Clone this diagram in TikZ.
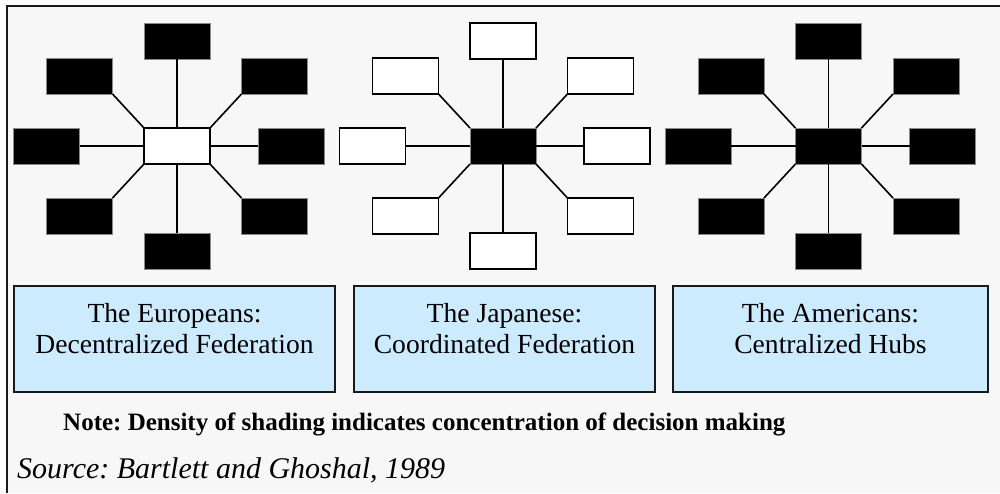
\documentclass[tikz,border=0pt]{standalone}
\usepackage{fontspec}
\setmainfont{Liberation Serif}
\usetikzlibrary{calc}
\frenchspacing

\definecolor{pagebg}{HTML}{F7F7F7}
\definecolor{labelblue}{HTML}{CCEBFF}
\definecolor{edgegrey}{HTML}{8A8A8A}

\tikzset{
  unitbox/.style={rectangle, minimum width=66pt, minimum height=36pt, inner sep=0pt, outer sep=0pt},
  solidunit/.style={unitbox, fill=black, draw=edgegrey, line width=0.8pt},
  hollowunit/.style={unitbox, fill=white, draw=black, line width=1.5pt},
  link/.style={draw=black, line width=1.6pt},
  captionbox/.style={rectangle, fill=labelblue, draw=black!90, line width=1.8pt, inner sep=0pt, outer sep=0pt},
  captiontext/.style={align=center, inner sep=0pt, font=\fontsize{27.6}{31}\selectfont},
}

% One organisation: a hub with eight units linked to it.
% #1 name prefix, #2 centre x, #3 hub style, #4 unit style
\newcommand{\starorg}[4]{%
  \node[#3] (#1c)  at (#2,146) {};
  \node[#4] (#1n)  at (#2,41) {};
  \node[#4] (#1s)  at (#2,251) {};
  \node[#4] (#1nw) at ({#2-97.5},76) {};
  \node[#4] (#1ne) at ({#2+97.5},76) {};
  \node[#4] (#1sw) at ({#2-97.5},216) {};
  \node[#4] (#1se) at ({#2+97.5},216) {};
  \node[#4] (#1w)  at ({#2-130.5},146) {};
  \node[#4] (#1e)  at ({#2+114},146) {};
  \draw[link] (#1c.north) -- (#1n.south);
  \draw[link] (#1c.south) -- (#1s.north);
  \draw[link] (#1c.west) -- (#1w.east);
  \draw[link] (#1c.east) -- (#1e.west);
  \draw[link] (#1c.north west) -- (#1nw.south east);
  \draw[link] (#1c.north east) -- (#1ne.south west);
  \draw[link] (#1c.south west) -- (#1sw.north east);
  \draw[link] (#1c.south east) -- (#1se.north west);
}

\begin{document}
\begin{tikzpicture}[x=1pt, y=-1pt]
  % canvas and frame
  \fill[white] (0,0) rectangle (1000,493);
  \useasboundingbox (0,0) rectangle (1000,493);
  \fill[pagebg] (7,6) rectangle (1000,493);
  \draw[line width=2.4pt, black!90] (7,493) -- (7,6) -- (1000,6);

  % the three structures
  \starorg{eu}{177}{hollowunit}{solidunit}
  \starorg{jp}{503}{solidunit}{hollowunit}
  \starorg{us}{828.5}{solidunit}{solidunit}

  % captions
  \node[captionbox, minimum width=321pt, minimum height=106pt] (cap1) at (174.5,339) {};
  \node[captionbox, minimum width=301pt, minimum height=106pt] (cap2) at (504.5,339) {};
  \node[captionbox, minimum width=315pt, minimum height=106pt] (cap3) at (830.5,339) {};
  \node[captiontext, anchor=north] (cap1t) at (174.5,303.5) {The Europeans:\\Decentralized Federation};
  \node[captiontext, anchor=north] (cap2t) at (504.5,303.5) {The Japanese:\\Coordinated Federation};
  \node[captiontext, anchor=north] (cap3t) at (830.5,303.5) {The Americans:\\Centralized Hubs};

  % footnotes
  \node[anchor=base west, inner sep=0pt, font=\fontsize{25}{30}\selectfont\bfseries] (note) at (63,430.5)
    {Note: Density of shading indicates concentration of decision making};
  \node[anchor=base west, inner sep=0pt, font=\fontsize{30}{36}\selectfont\itshape] (source) at (17,478)
    {Source: Bartlett and Ghoshal, 1989};
\end{tikzpicture}
\end{document}
